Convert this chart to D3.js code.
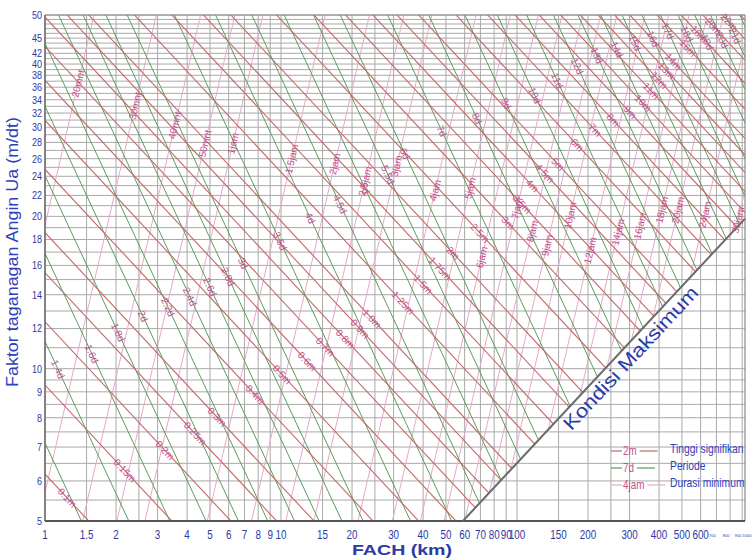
<!DOCTYPE html>
<html><head><meta charset="utf-8">
<script src="https://cdn.jsdelivr.net/npm/d3@7"></script>
<style>body{margin:0;background:#fff}svg{display:block}</style>
</head><body><svg id="c" width="752" height="560"></svg>
<script>
// ---------------- data ----------------
const fetchTicks = [1,1.5,2,3,4,5,6,7,8,9,10,15,20,30,40,50,60,70,80,90,100,150,200,300,400,500,600];
const fetchTicksSmall = [700,800,900,1000];
const fetchGrid = [1,1.5,2,2.5,3,4,5,6,7,8,9,10,15,20,25,30,40,50,60,70,80,90,100,150,200,250,300,400,500,600,700,800,900];
const windTicks = [5,6,7,8,9,10,12,14,16,18,20,22,24,26,28,30,32,34,36,38,40,42,45,50];
const windGrid = [5,5.5,6,6.5,7,7.5,8,8.5,9,9.5,10,11,12,13,14,15,16,17,18,19,20,21,22,23,24,25,26,27,28,29,30,31,32,33,34,35,36,37,38,39,40,41,42,43,44,45,46,47,48,49,50];

// significant wave height lines (m), their labels and the fetch (km) where each label sits
const heightLevels = [0.1,0.15,0.2,0.25,0.3,0.4,0.5,0.6,0.7,0.8,0.9,1,1.25,1.5,1.75,2,2.5,3,3.5,4,4.5,5,6,7,8,9,10,11,12,13,14,16,18,20,22,24];
const heightLabels = ["0.1m","0.15m","0.2m","0.25m","0.3m","0.4m","0.5m","0.6m","0.7m","0.8m","0.9m","1.0m","1.25m","1.5m","1.75m","2m","2.5m","3m","3.5m","4m","4.5m","5m","6m","7m","8m","9m","10m","11m","12m","13m","14m","16m","18m","20m","22m","24m"];
const heightLabelFetch = [1.24,2.18,3.22,4.32,5.35,7.75,10.1,12.9,15.4,18.7,21.6,24.3,32.9,40,47.2,53.6,69.7,91.6,105,116,131,149,180,214,255,301,342,370,400,430,460,530,590,680,790,900];

// wave period lines (s)
const periodLevels = [1.2,1.4,1.6,1.8,2,2.2,2.4,2.6,2.8,3,3.5,4,4.5,5,5.5,6,7,8,9,10,11,12,13,14,15,16,17,18,19,20,21,22];
const periodLabels = ["","1.4d","1.6d","1.8d","2d","2.2d","2.4d","2.6d","2.8d","3d","3.5d","4d","4.5d","5d","5.5d","6d","7d","8d","9d","10d","11d","12d","13d","14d","15d","16d","17d","18d","19d","20d","21d","22d"];
const periodLabelFetch = [1,1.135,1.58,2.04,2.6,3.32,4.11,5.0,5.96,6.9,9.9,13.3,17.8,22.7,28.4,33.5,48,67.7,90,119,148,180,218,265,316,377,436,525,640,740,840,910];

// minimum duration lines (hours)
const durationLevels = [1/3,0.5,2/3,5/6,1,1.5,2,2.5,3,4,5,6,7,8,9,10,12,14,16,18,20,24,30];
const durationLabels = ["20mnt","30mnt","40mnt","50mnt","1jam","1.5jam","2jam","2.5jam","3jam","4jam","5jam","6jam","7jam","8jam","9jam","10jam","12jam","14jam","16jam","18jam","20jam","24jam","30jam"];
const durationLabelFetch = [1.38,2.41,3.55,4.76,6.26,11.1,16.9,22.7,30.9,45,63.2,71,100,116,134,168,204,268,332,411,481,626,864];

// fully developed ("Kondisi Maksimum") boundary, read at its two ends
const maxCondFetch = [59,925];
const maxCondWind = [5,19.8];

const legendSamples = ["2m","7d","4jam"];
const legendNames = ["Tinggi signifikan","Periode","Durasi minimum"];

// ---------------- nomogram relations (SPM deep water, fetch limited) ----------------
const g = 9.81;
const windForHeight = (H, Fkm) => H*Math.sqrt(g)/(1.6e-3*Math.sqrt(Fkm*1000));
const windForPeriod = (T, Fkm) => Math.pow(T/(0.2857*Math.pow(g,-2/3)),3)/(Fkm*1000);
const windForDuration = (hrs, Fkm) => Math.pow(68.8*Math.pow(g,-1/3)*Math.pow(Fkm*1000,2/3)/(hrs*3600),3);

// ---------------- layout ----------------
const svg = d3.select("#c");
const L = 45, R = 745, T0 = 15, B = 521;
const x = d3.scaleLog().domain([1,925]).range([L,R]);
const y = d3.scaleLog().domain([5,50]).range([B,T0]);
const blue = "#2c3aa6";
const labelPink = "#c4508c";
const cRed = "#c46868", cGreen = "#5c9c5c", cPink = "#e8a8c8";
const sans = "'Liberation Sans',Arial,sans-serif";
const NARROW = 0.82;

// grid
const grid = svg.append("g");
grid.selectAll(".v").data(fetchGrid).join("line")
  .attr("x1",d=>x(d)).attr("x2",d=>x(d)).attr("y1",T0).attr("y2",B)
  .attr("stroke","#a9a9a9").attr("stroke-width",1);
grid.selectAll(".h").data(windGrid).join("line")
  .attr("x1",L).attr("x2",R).attr("y1",d=>y(d)).attr("y2",d=>y(d))
  .attr("stroke","#a9a9a9").attr("stroke-width",1);

// clip region: plot box above the max-condition line
const p1 = [x(maxCondFetch[0]), y(maxCondWind[0])];
const p2 = [x(maxCondFetch[1]), y(maxCondWind[1])];
svg.append("clipPath").attr("id","reg").append("polygon")
  .attr("points",[[L,T0],[R,T0],[p2[0],p2[1]],[p1[0],p1[1]],[L,B]].map(p=>p.join(",")).join(" "));

const Fext = [0.5, 2000];
const lineGen = d3.line().x(d=>x(d[0])).y(d=>y(d[1]));
const fam = svg.append("g").attr("clip-path","url(#reg)");
function drawFamily(levels, fn, color, w){
  fam.append("g").selectAll("path").data(levels).join("path")
    .attr("d", v => lineGen(Fext.map(F=>[F, fn(v,F)])))
    .attr("fill","none").attr("stroke",color).attr("stroke-width",w);
}
drawFamily(durationLevels, windForDuration, cPink, 1);
drawFamily(periodLevels, windForPeriod, cGreen, 1);
drawFamily(heightLevels, windForHeight, cRed, 1.1);

// frame
svg.append("line").attr("x1",L).attr("x2",R).attr("y1",T0).attr("y2",T0).attr("stroke","#8a8a8a").attr("stroke-width",1.2);
svg.append("line").attr("x1",R).attr("x2",R).attr("y1",T0).attr("y2",B).attr("stroke","#8a8a8a").attr("stroke-width",1.2);
svg.append("line").attr("x1",L).attr("x2",L).attr("y1",T0).attr("y2",B).attr("stroke","#6e6e6e").attr("stroke-width",1.6);
svg.append("line").attr("x1",L).attr("x2",R).attr("y1",B).attr("y2",B).attr("stroke","#555").attr("stroke-width",1.8);

// max condition line
svg.append("line").attr("x1",p1[0]).attr("y1",p1[1]).attr("x2",p2[0]).attr("y2",p2[1])
  .attr("stroke","#6a6a6a").attr("stroke-width",2);
const diagAng = Math.atan2(p2[1]-p1[1], p2[0]-p1[0])*180/Math.PI;
const tPos = 0.565;
svg.append("text")
  .attr("transform",`translate(${p1[0]+(p2[0]-p1[0])*tPos},${p1[1]+(p2[1]-p1[1])*tPos}) rotate(${diagAng})`)
  .attr("y",18).attr("text-anchor","middle")
  .attr("font-family",sans).attr("font-size",19)
  .attr("textLength",188).attr("lengthAdjust","spacingAndGlyphs")
  .attr("fill",blue).text("Kondisi Maksimum");

// line labels
function inside(px,py){
  if(px<L+3||px>R-3||py<T0+3||py>B-3) return false;
  const cross=(p2[0]-p1[0])*(py-p1[1])-(p2[1]-p1[1])*(px-p1[0]);
  return cross<-400;
}
const labG = svg.append("g").attr("font-family",sans).attr("font-size",10).attr("fill",labelPink);
function labelFamily(levels, labels, fetches, fn){
  levels.forEach((v,i)=>{
    if(!labels[i]) return;
    const F = fetches[i], U = fn(v,F);
    const px = x(F), py = y(U);
    if(!inside(px,py)) return;
    const ang = Math.atan2(y(fn(v,F*1.5))-py, x(F*1.5)-px)*180/Math.PI;
    labG.append("text").attr("transform",`translate(${px},${py}) rotate(${ang})`)
      .attr("text-anchor","middle").attr("dy","0.35em").text(labels[i]);
  });
}
labelFamily(heightLevels, heightLabels, heightLabelFetch, windForHeight);
labelFamily(periodLevels, periodLabels, periodLabelFetch, windForPeriod);
labelFamily(durationLevels, durationLabels, durationLabelFetch, windForDuration);

// axes labels (narrow lettering)
svg.append("g").selectAll("text").data(fetchTicks).join("text")
  .attr("transform",d=>`translate(${x(d)},539) scale(${NARROW},1)`).attr("text-anchor","middle")
  .attr("font-family",sans).attr("font-size",12).attr("fill",blue).text(d=>d);
svg.append("g").selectAll("text").data(fetchTicksSmall).join("text")
  .attr("x",d=>Math.min(x(d)-4,747)).attr("y",537).attr("text-anchor","middle")
  .attr("font-family",sans).attr("font-size",4).attr("fill",blue).text(d=>d);
svg.append("g").selectAll("text").data(windTicks).join("text")
  .attr("transform",d=>`translate(42,${y(d)}) scale(${NARROW},1)`).attr("dy","0.35em").attr("text-anchor","end")
  .attr("font-family",sans).attr("font-size",11).attr("fill",blue).text(d=>d);

svg.append("text").attr("transform","translate(18,252) rotate(-90)").attr("text-anchor","middle")
  .attr("font-family",sans).attr("font-size",17)
  .attr("textLength",270).attr("lengthAdjust","spacingAndGlyphs")
  .attr("fill","#3040b8").text("Faktor taganagan Angin Ua (m/dt)");
svg.append("text").attr("x",402).attr("y",555).attr("text-anchor","middle")
  .attr("font-family",sans).attr("font-size",15).attr("font-weight","bold")
  .attr("textLength",100).attr("lengthAdjust","spacingAndGlyphs")
  .attr("fill","#2c3aa6").text("FACH (km)");

// legend
const legColors = [cRed, cGreen, cPink];
const legG = svg.append("g").attr("font-family",sans).attr("font-size",12);
legendSamples.forEach((s,i)=>{
  const cy = 451 + i*17;
  legG.append("line").attr("x1",611).attr("x2",622).attr("y1",cy).attr("y2",cy).attr("stroke",legColors[i]).attr("stroke-width",1.2);
  const t = legG.append("text").attr("transform",`translate(623,${cy}) scale(${NARROW},1)`).attr("dy","0.35em").attr("fill",labelPink).text(s);
  const w = t.node().getComputedTextLength()*NARROW;
  legG.append("line").attr("x1",623+w+3).attr("x2",623+w+21).attr("y1",cy).attr("y2",cy).attr("stroke",legColors[i]).attr("stroke-width",1.2);
  legG.append("text").attr("transform",`translate(670,${cy-2}) scale(0.86,1)`).attr("dy","0.35em").attr("fill","#3040b8").text(legendNames[i]);
});
</script></body></html>
